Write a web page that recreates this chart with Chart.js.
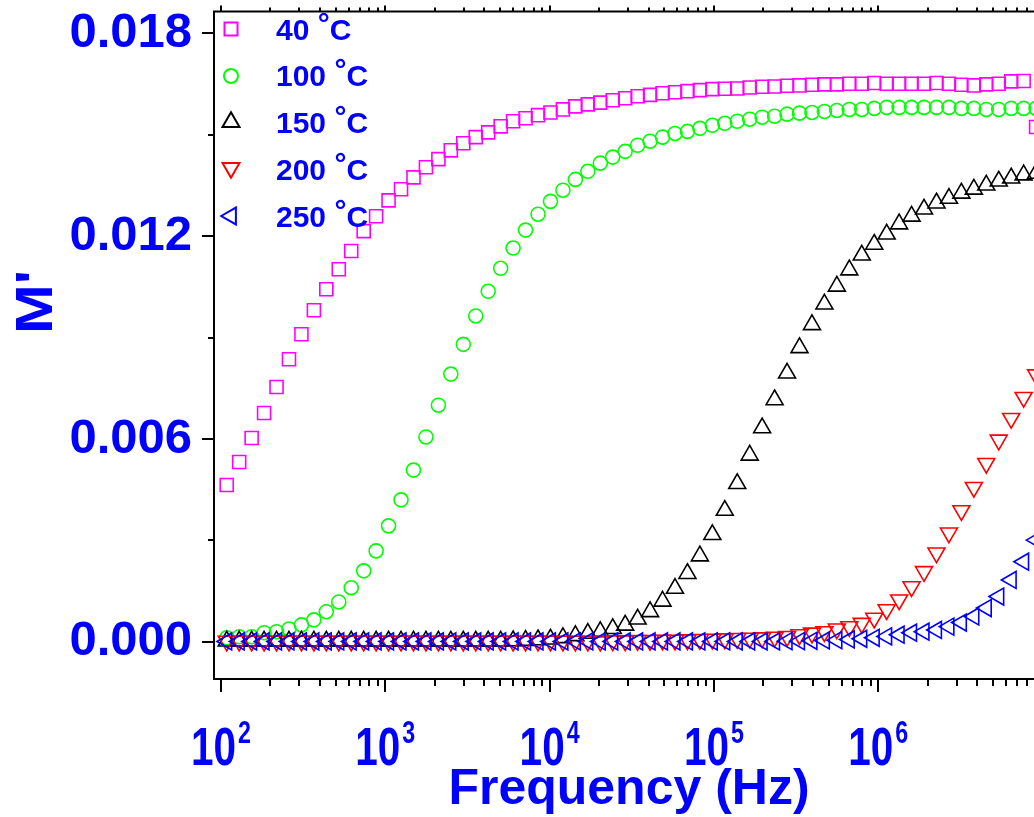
<!DOCTYPE html>
<html>
<head>
<meta charset="utf-8">
<title>M' vs frequency</title>
<script src="https://cdn.jsdelivr.net/npm/chart.js@4.4.1/dist/chart.umd.min.js"></script>
<style>
    html, body { margin: 0; padding: 0; background: #ffffff; overflow: hidden; }
    canvas { display: block; }
</style>
</head>
<body>
<canvas id="modulusChart" width="1100" height="817"></canvas>
<script>
// Frequency (Hz) of every measured point
const frequency = [
    108.4, 129.1, 153.7, 183.0, 217.9, 259.4, 308.8, 367.7, 437.7, 521.2,
    620.5, 738.7, 879.5, 1047, 1247, 1485, 1768, 2105, 2506, 2984,
    3553, 4230, 5037, 5997, 7140, 8501, 10123, 12053, 14350, 17085,
    20341, 24218, 28840, 34340, 40880, 48670, 57950, 69010, 82140, 97810,
    116450, 138680, 165110, 196560, 234040, 278670, 331800, 395100, 470300, 560000,
    666800, 793900, 945400, 1125400, 1340000, 1595500, 1899700, 2262000, 2693000, 3206000,
    3818000, 4545000, 5413000, 6443000, 7671000, 9135000
];

// M' for each temperature
const m40 = [
    0.00464, 0.00532, 0.00603, 0.00677, 0.00754, 0.00836, 0.0091, 0.00981, 0.01043, 0.01102,
    0.01156, 0.01215, 0.01259, 0.01306, 0.01339, 0.01374, 0.01404, 0.01428, 0.01454, 0.01475,
    0.01493, 0.01507, 0.01525, 0.0154, 0.01549, 0.01558, 0.01566, 0.01575, 0.01584, 0.0159,
    0.01595, 0.01602, 0.01608, 0.01614, 0.01618, 0.01623, 0.01626, 0.01629, 0.01632, 0.01635,
    0.01636, 0.01637, 0.0164, 0.01642, 0.01643, 0.01645, 0.01646, 0.01648, 0.01649, 0.01649,
    0.01651, 0.01651, 0.01653, 0.01651, 0.01651, 0.01651, 0.01651, 0.01653, 0.01651, 0.01648,
    0.01646, 0.01649, 0.01651, 0.01658, 0.01659, 0.01523
];
const m100 = [
    0.00012, 0.00015, 0.00015, 0.00027, 0.0003, 0.00038, 0.0005, 0.00065, 0.00089, 0.00118,
    0.0016, 0.0021, 0.00269, 0.00343, 0.0042, 0.00508, 0.00606, 0.007, 0.00792, 0.0088,
    0.00964, 0.01037, 0.01105, 0.01165, 0.01218, 0.01265, 0.01303, 0.01336, 0.01368, 0.01392,
    0.01416, 0.01434, 0.01451, 0.01469, 0.01481, 0.01493, 0.01504, 0.0151, 0.01519, 0.01528,
    0.01534, 0.0154, 0.01546, 0.01552, 0.01555, 0.01561, 0.01564, 0.01566, 0.01569, 0.01572,
    0.01575, 0.01575, 0.01578, 0.01581, 0.01581, 0.01581, 0.01581, 0.01581, 0.01581, 0.01578,
    0.01578, 0.01575, 0.01575, 0.01578, 0.01578, 0.01578
];
const m150 = [
    0.00002, 0.00002, 0.00002, 0.00002, 0.00002, 0.00002, 0.00002, 0.00002, 0.00002, 0.00002,
    0.00002, 0.00002, 0.00002, 0.00002, 0.00002, 0.00002, 0.00002, 0.00002, 0.00002, 0.00002,
    0.00002, 0.00002, 0.00002, 0.00003, 0.00004, 0.00006, 0.00008, 0.00012, 0.00018, 0.00025,
    0.0003, 0.00039, 0.00049, 0.00067, 0.00089, 0.0012, 0.00158, 0.00202, 0.00254, 0.00317,
    0.00389, 0.00468, 0.00552, 0.00633, 0.00716, 0.00795, 0.0087, 0.00938, 0.00999, 0.01052,
    0.011, 0.01144, 0.01176, 0.01206, 0.01236, 0.01259, 0.0128, 0.01298, 0.01312, 0.01327,
    0.01339, 0.01351, 0.01363, 0.01372, 0.01381, 0.01386
];
const m200 = [
    0.00002, 0.00002, 0.00002, 0.00002, 0.00002, 0.00002, 0.00002, 0.00002, 0.00002, 0.00002,
    0.00002, 0.00002, 0.00002, 0.00002, 0.00002, 0.00002, 0.00002, 0.00002, 0.00002, 0.00002,
    0.00002, 0.00002, 0.00002, 0.00002, 0.00002, 0.00002, 0.00002, 0.00002, 0.00002, 0.00002,
    0.00002, 0.00003, 0.00003, 0.00004, 0.00004, 0.00005, 0.00005, 0.00006, 0.00007, 0.00008,
    0.00009, 0.0001, 0.00011, 0.00012, 0.00014, 0.00016, 0.00021, 0.00026, 0.0003, 0.00038,
    0.00045, 0.00055, 0.0007, 0.00095, 0.00124, 0.00163, 0.00208, 0.00263, 0.00322, 0.00388,
    0.00457, 0.00528, 0.00597, 0.00661, 0.00723, 0.0079
];
const m250 = [
    0.00001, 0.00001, 0.00001, 0.00001, 0.00001, 0.00001, 0.00001, 0.00001, 0.00001, 0.00001,
    0.00001, 0.00001, 0.00001, 0.00001, 0.00001, 0.00001, 0.00001, 0.00001, 0.00001, 0.00001,
    0.00001, 0.00001, 0.00001, 0.00001, 0.00001, 0.00001, 0.00001, 0.00001, 0.00001, 0.00001,
    0.00001, 0.00001, 0.00001, 0.00001, 0.00001, 0.00001, 0.00001, 0.00001, 0.00001, 0.00001,
    0.00001, 0.00001, 0.00001, 0.00001, 0.00001, 0.00002, 0.00002, 0.00003, 0.00004, 0.00005,
    0.00007, 0.00009, 0.00012, 0.00016, 0.00021, 0.00027, 0.0003, 0.00035, 0.00045, 0.00057,
    0.00075, 0.001, 0.00134, 0.00183, 0.00237, 0.00301
];

const temperatures = ["40", "100", "150", "200", "250"];
const yMajorTicks = [0, 0.006, 0.012, 0.018];
const yMinorTicks = [0.003, 0.009, 0.015];
const yTickLabels = ["0.000", "0.006", "0.012", "0.018"];
const xTickExponents = [2, 3, 4, 5, 6];

// marker look per series
const colors = ["#ff00ff", "#00ff00", "#000000", "#ff0000", "#0000ff"];
const shapes = ["rect", "circle", "triangle", "triangle", "triangle"];
const rotations = [0, 0, 0, 180, 270];
const radii = [9.2, 7, 9.8, 9.8, 9.8];

const BLUE = "#0000ff";
const FONT = "'Liberation Sans', Arial, Helvetica, sans-serif";

const allSeries = [m40, m100, m150, m200, m250];

const datasets = allSeries.map((vals, i) => ({
    label: temperatures[i] + " °C",
    data: frequency.map((f, k) => ({ x: f, y: vals[k] })),
    showLine: false,
    pointStyle: shapes[i],
    pointRotation: rotations[i],
    pointRadius: radii[i],
    pointHoverRadius: radii[i],
    pointBorderColor: colors[i],
    pointBackgroundColor: "rgba(0,0,0,0)",
    pointBorderWidth: 1.6,
    order: allSeries.length - 1 - i // 250 °C drawn on top
}));

// axes, labels and legend drawn the way the original plot looks
const originAxes = {
    id: "originAxes",
    afterDatasetsDraw(chart) {
        const { ctx, chartArea: area } = chart;
        const xs = chart.scales.x;
        const ys = chart.scales.y;

        ctx.save();
        ctx.strokeStyle = "#000000";
        ctx.lineWidth = 2;
        ctx.lineCap = "square";
        ctx.beginPath();
        ctx.moveTo(area.left, area.top);
        ctx.lineTo(area.right, area.top);
        ctx.moveTo(area.left, area.top);
        ctx.lineTo(area.left, area.bottom);
        ctx.moveTo(area.left, area.bottom);
        ctx.lineTo(area.right, area.bottom);

        yMajorTicks.forEach(v => {
            const py = Math.round(ys.getPixelForValue(v));
            ctx.moveTo(area.left - 11, py);
            ctx.lineTo(area.left, py);
        });
        yMinorTicks.forEach(v => {
            const py = Math.round(ys.getPixelForValue(v));
            ctx.moveTo(area.left - 5, py);
            ctx.lineTo(area.left, py);
        });

        for (let e = 1; e <= 7; e++) {
            for (let m = 1; m <= 9; m++) {
                const f = m * Math.pow(10, e);
                if (f < xs.min || f > xs.max) continue;
                const px = Math.round(xs.getPixelForValue(f));
                ctx.moveTo(px, area.bottom);
                ctx.lineTo(px, area.bottom + (m === 1 ? 12 : 6));
                ctx.moveTo(px, area.top);
                ctx.lineTo(px, area.top - (m === 1 ? 5 : 3));
            }
        }
        ctx.stroke();

        // y tick labels
        ctx.fillStyle = BLUE;
        ctx.font = "bold 49px " + FONT;
        ctx.textAlign = "right";
        ctx.textBaseline = "middle";
        yMajorTicks.forEach((v, i) => {
            ctx.fillText(yTickLabels[i], area.left - 22, ys.getPixelForValue(v));
        });

        // x tick labels: 10 with raised exponent, narrow face
        const squeeze = 0.75;
        ctx.textAlign = "left";
        ctx.textBaseline = "alphabetic";
        xTickExponents.forEach(e => {
            const px = xs.getPixelForValue(Math.pow(10, e));
            ctx.font = "bold 54px " + FONT;
            const wBase = ctx.measureText("10").width * squeeze;
            ctx.font = "bold 31px " + FONT;
            const wExp = ctx.measureText(String(e)).width * squeeze;
            const left = px - (wBase + 2 + wExp) / 2;

            ctx.save();
            ctx.translate(left, 765);
            ctx.scale(squeeze, 1);
            ctx.font = "bold 54px " + FONT;
            ctx.fillText("10", 0, 0);
            ctx.restore();

            ctx.save();
            ctx.translate(left + wBase + 2, 743);
            ctx.scale(squeeze, 1);
            ctx.font = "bold 31px " + FONT;
            ctx.fillText(String(e), 0, 0);
            ctx.restore();
        });

        // axis titles
        ctx.font = "bold 50px " + FONT;
        ctx.textAlign = "center";
        ctx.fillText("Frequency (Hz)", 629, 804);

        ctx.save();
        ctx.translate(52, 302);
        ctx.rotate(-Math.PI / 2);
        ctx.scale(1.15, 1);
        ctx.font = "bold 52px " + FONT;
        ctx.fillText("M'", 0, 0);
        ctx.restore();

        // legend
        const markerY = [29, 76, 122, 168, 216];
        const baseY = [40, 86, 133, 180, 227];
        temperatures.forEach((t, i) => {
            ctx.strokeStyle = colors[i];
            ctx.fillStyle = "rgba(0,0,0,0)";
            Chart.helpers.drawPoint(ctx, {
                pointStyle: shapes[i],
                rotation: rotations[i],
                radius: radii[i],
                borderWidth: 1.6
            }, 231, markerY[i]);

            ctx.fillStyle = BLUE;
            ctx.font = "bold 30px " + FONT;
            ctx.textAlign = "left";
            const head = t + " ";
            ctx.fillText(head, 276, baseY[i]);
            const w1 = ctx.measureText(head).width;
            ctx.fillText("°", 276 + w1, baseY[i] - 6);
            const w2 = ctx.measureText("°").width;
            ctx.fillText("C", 276 + w1 + w2, baseY[i]);
        });

        ctx.restore();
    }
};

const ctx = document.getElementById("modulusChart").getContext("2d");

new Chart(ctx, {
    type: "line",
    data: { datasets: datasets },
    options: {
        responsive: false,
        animation: false,
        layout: {
            padding: { left: 214, top: 11, right: 20, bottom: 138 }
        },
        scales: {
            x: { type: "logarithmic", min: 90.7, max: 1.69e7, display: false },
            y: { type: "linear", min: -0.0011, max: 0.01865, display: false }
        },
        plugins: {
            legend: { display: false },
            tooltip: { enabled: false }
        }
    },
    plugins: [originAxes]
});
</script>
</body>
</html>
